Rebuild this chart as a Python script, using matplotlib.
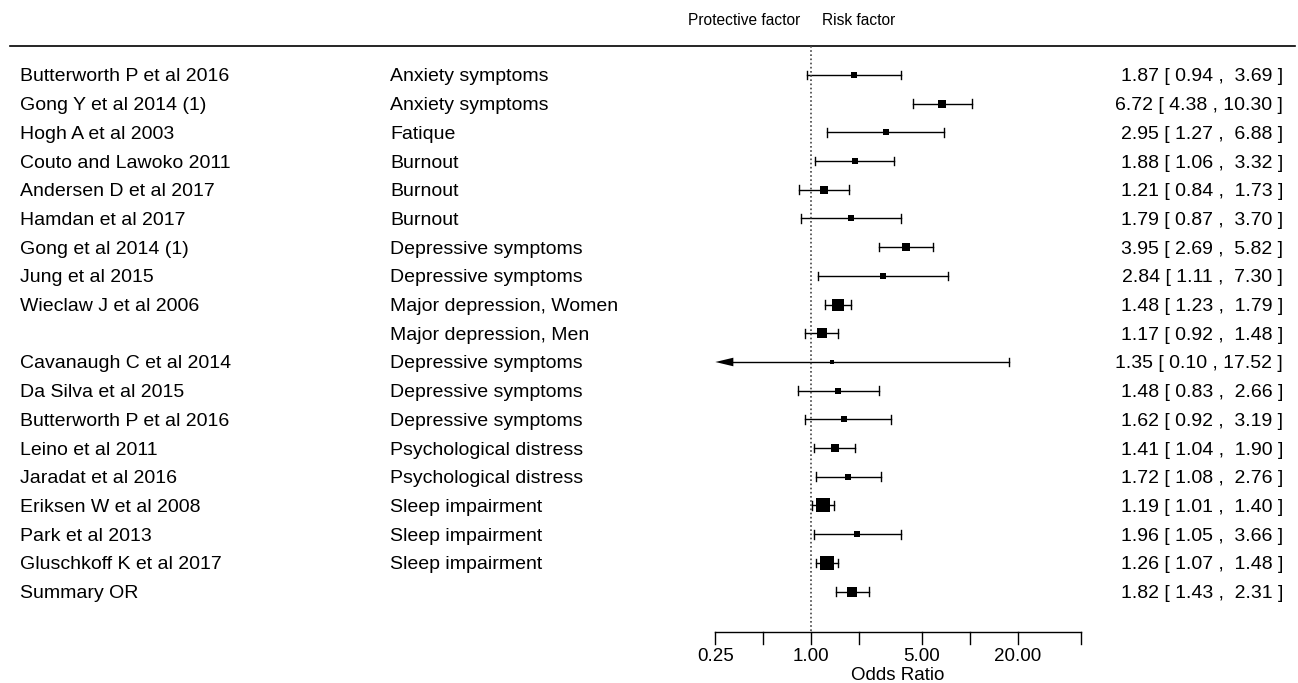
import numpy as np
import matplotlib
matplotlib.use('Agg')
import matplotlib.pyplot as plt
import matplotlib.transforms as mtransforms

plt.rcParams['font.family'] = ['Liberation Sans', 'DejaVu Sans']

# datos del forest plot
estudios = ['Butterworth P et al 2016', 'Gong Y et al 2014 (1)', 'Hogh A et al 2003',
            'Couto and Lawoko 2011', 'Andersen D et al 2017', 'Hamdan et al 2017',
            'Gong et al 2014 (1)', 'Jung et al 2015', 'Wieclaw J et al 2006', '',
            'Cavanaugh C et al 2014', 'Da Silva et al 2015', 'Butterworth P et al 2016',
            'Leino et al 2011', 'Jaradat et al 2016', 'Eriksen W et al 2008',
            'Park et al 2013', 'Gluschkoff K et al 2017']
desenlaces = ['Anxiety symptoms', 'Anxiety symptoms', 'Fatique', 'Burnout', 'Burnout', 'Burnout',
              'Depressive symptoms', 'Depressive symptoms', 'Major depression, Women',
              'Major depression, Men', 'Depressive symptoms', 'Depressive symptoms',
              'Depressive symptoms', 'Psychological distress', 'Psychological distress',
              'Sleep impairment', 'Sleep impairment', 'Sleep impairment']
or_est = [1.87, 6.72, 2.95, 1.88, 1.21, 1.79, 3.95, 2.84, 1.48, 1.17, 1.35, 1.48, 1.62,
          1.41, 1.72, 1.19, 1.96, 1.26]
ci_inf = [0.94, 4.38, 1.27, 1.06, 0.84, 0.87, 2.69, 1.11, 1.23, 0.92, 0.10, 0.83, 0.92,
          1.04, 1.08, 1.01, 1.05, 1.07]
ci_sup = [3.69, 10.30, 6.88, 3.32, 1.73, 3.70, 5.82, 7.30, 1.79, 1.48, 17.52, 2.66, 3.19,
          1.90, 2.76, 1.40, 3.66, 1.48]
resumen_label = 'Summary OR'
resumen = (1.82, 1.43, 2.31)

ticks = [0.25, 0.5, 1, 2, 5, 10, 20, 50]
tick_labels = ['0.25', '', '1.00', '', '5.00', '', '20.00', '']

# geometria (pixeles)
W, H = 1298, 683
PX_LN = 69.0
X_UNO = 811
Y0, DY = 75, 28.7

fig = plt.figure(figsize=(W / 100, H / 100), dpi=100)
ax = fig.add_axes([0, 0, 1, 1])
ax.set_xscale('log')
ax.set_xlim(np.exp(-X_UNO / PX_LN), np.exp((W - X_UNO) / PX_LN))
ax.set_ylim((H - Y0) / DY, -Y0 / DY)
ax.axis('off')

trans = mtransforms.blended_transform_factory(ax.transAxes, ax.transData)
fx = lambda px: px / W
fila = lambda py: (py - Y0) / DY

n = len(estudios)
filas = np.arange(n)
fila_res = n
x_min = ticks[0]
cap = 4.3 / DY

def peso(lo, hi):
    se = (np.log(hi) - np.log(lo)) / (2 * 1.96)
    return 1 / se ** 2

def lado_px(lo, hi):
    return 3.5 + 0.8 * np.sqrt(peso(lo, hi))

def etiqueta(est, lo, hi):
    return f"{est:.2f} [ {lo:.2f} , {hi:5.2f} ]"

def dibujar_ic(y, est, lo, hi):
    if lo < x_min:
        base = x_min * np.exp(18 / PX_LN)
        ax.plot([base, hi], [y, y], color='black', lw=1)
        ax.fill([x_min, base, base], [y, y - cap, y + cap], color='black', lw=0)
    else:
        ax.plot([lo, hi], [y, y], color='black', lw=1)
        ax.plot([lo, lo], [y - cap, y + cap], color='black', lw=1)
    ax.plot([hi, hi], [y - cap, y + cap], color='black', lw=1)
    lado = lado_px(lo, hi) * 0.72
    ax.scatter([est], [y], marker='s', s=lado ** 2, color='black', lw=0, zorder=3)

fs = 14
for i in range(n):
    y = filas[i]
    ax.text(fx(20), y, estudios[i], transform=trans, fontsize=fs, va='center_baseline', ha='left')
    ax.text(fx(390), y, desenlaces[i], transform=trans, fontsize=fs, va='center_baseline', ha='left')
    ax.text(fx(1283), y, etiqueta(or_est[i], ci_inf[i], ci_sup[i]), transform=trans,
            fontsize=fs, va='center_baseline', ha='right')
    dibujar_ic(y, or_est[i], ci_inf[i], ci_sup[i])

# resumen
ax.text(fx(20), fila_res, resumen_label, transform=trans, fontsize=fs, va='center_baseline', ha='left')
ax.text(fx(1283), fila_res, etiqueta(*resumen), transform=trans, fontsize=fs,
        va='center_baseline', ha='right')
dibujar_ic(fila_res, *resumen)

# linea de cabecera y textos
y_head = fila(46)
ax.plot([fx(10), fx(1295)], [y_head, y_head], color='black', lw=1.2, transform=trans)
ax.text(np.exp(-11 / PX_LN), fila(19), 'Protective factor', fontsize=11.2,
        ha='right', va='center_baseline')
ax.text(np.exp(11 / PX_LN), fila(19), 'Risk factor', fontsize=11.2,
        ha='left', va='center_baseline')

# linea de no efecto
y_eje = fila(632)
ax.plot([1, 1], [y_head, y_eje], color='#444444', lw=1.2, linestyle=(0, (1, 1.5)))

# eje x
ax.plot([ticks[0], ticks[-1]], [y_eje, y_eje], color='black', lw=1)
for t, lab in zip(ticks, tick_labels):
    ax.plot([t, t], [y_eje, y_eje + 12 / DY], color='black', lw=1)
    if lab:
        ax.text(t, fila(655), lab, fontsize=13.5, ha='center', va='center_baseline')
ax.text(np.exp(np.mean(np.log([ticks[0], ticks[-1]]))), fila(673), 'Odds Ratio',
        fontsize=13.5, ha='center', va='center_baseline')

fig.savefig('out.png', dpi=100)
